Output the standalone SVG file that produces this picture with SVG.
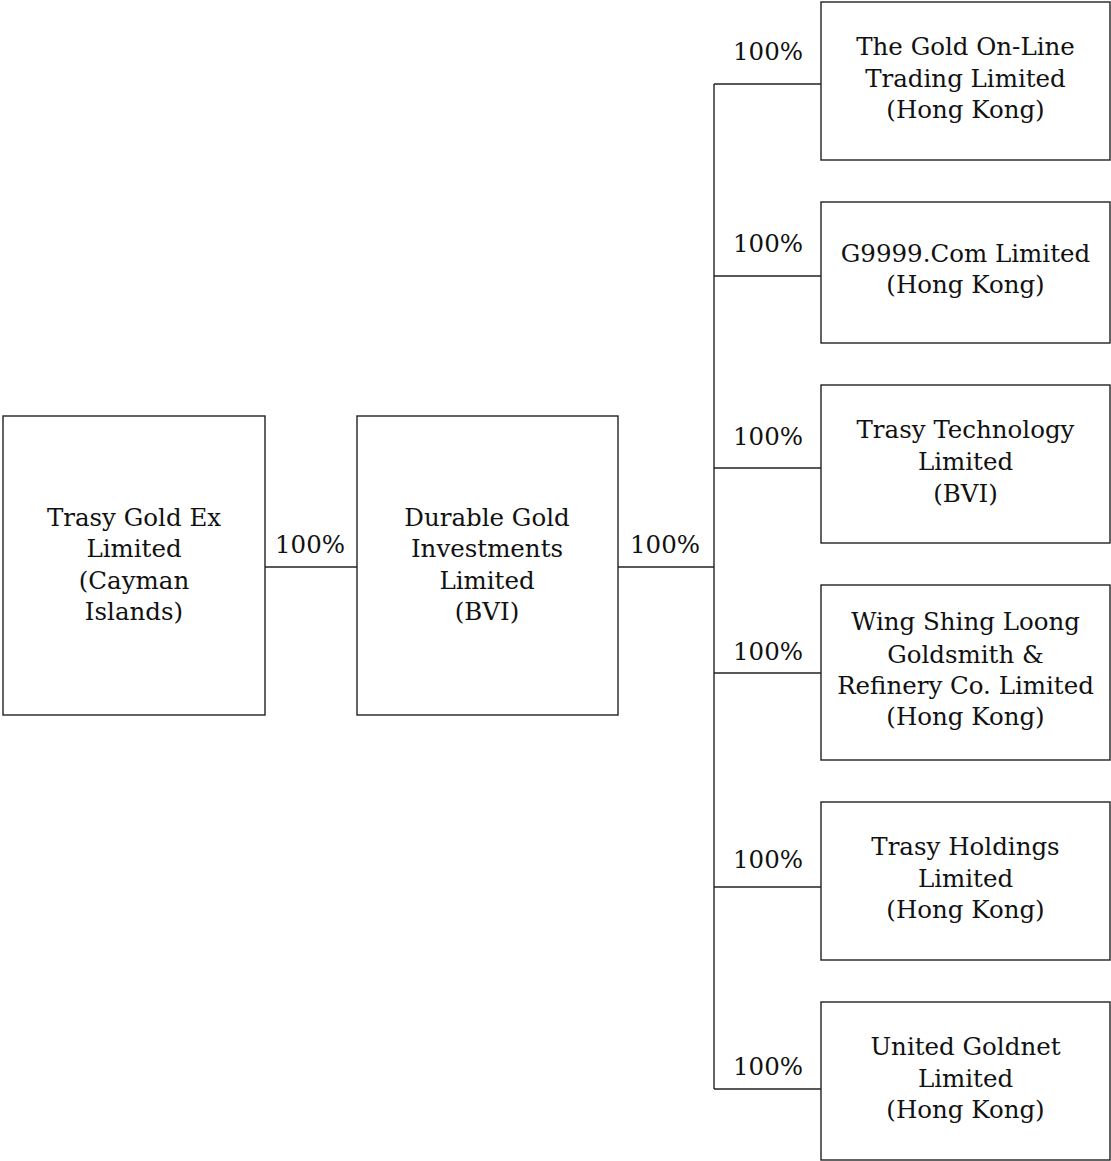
<svg xmlns="http://www.w3.org/2000/svg" width="1111" height="1161" viewBox="0 0 1111 1161">
<style>
.box{fill:#fff;stroke:#222;stroke-width:1.4}
.ln{fill:none;stroke:#222;stroke-width:1.4}
text{font-family:"DejaVu Serif","Liberation Serif",serif;font-size:24.5px;fill:#111;text-anchor:middle}
</style>
<rect width="1111" height="1161" fill="#fff"/>
<g id="connectors">
<line class="ln" x1="265" y1="567" x2="357" y2="567"/>
<line class="ln" x1="618" y1="567" x2="714" y2="567"/>
<line class="ln" x1="714" y1="84" x2="714" y2="1089"/>
<line class="ln" x1="714" y1="84" x2="821" y2="84"/>
<line class="ln" x1="714" y1="276" x2="821" y2="276"/>
<line class="ln" x1="714" y1="468" x2="821" y2="468"/>
<line class="ln" x1="714" y1="673" x2="821" y2="673"/>
<line class="ln" x1="714" y1="887" x2="821" y2="887"/>
<line class="ln" x1="714" y1="1089" x2="821" y2="1089"/>
<text x="310" y="553" font-size="23">100%</text>
<text x="665" y="553" font-size="23">100%</text>
<text x="768" y="60" font-size="23">100%</text>
<text x="768" y="252" font-size="23">100%</text>
<text x="768" y="445" font-size="23">100%</text>
<text x="768" y="660" font-size="23">100%</text>
<text x="768" y="868" font-size="23">100%</text>
<text x="768" y="1075" font-size="23">100%</text>
</g>
<g id="trasy-gold-ex">
<rect class="box" x="3" y="416" width="262" height="299"/>
<text x="134" y="526">Trasy Gold Ex</text>
<text x="134" y="557">Limited</text>
<text x="134" y="589">(Cayman</text>
<text x="134" y="620">Islands)</text>
</g>
<g id="durable-gold">
<rect class="box" x="357" y="416" width="261" height="299"/>
<text x="487" y="526">Durable Gold</text>
<text x="487" y="557">Investments</text>
<text x="487" y="589">Limited</text>
<text x="487" y="620">(BVI)</text>
</g>
<g id="gold-online">
<rect class="box" x="821" y="2" width="289" height="158"/>
<text x="965.5" y="55">The Gold On-Line</text>
<text x="965.5" y="87">Trading Limited</text>
<text x="965.5" y="118">(Hong Kong)</text>
</g>
<g id="g9999">
<rect class="box" x="821" y="202" width="289" height="141"/>
<text x="965.5" y="262">G9999.Com Limited</text>
<text x="965.5" y="293">(Hong Kong)</text>
</g>
<g id="trasy-technology">
<rect class="box" x="821" y="385" width="289" height="158"/>
<text x="965.5" y="438">Trasy Technology</text>
<text x="965.5" y="470">Limited</text>
<text x="965.5" y="502">(BVI)</text>
</g>
<g id="wing-shing-loong">
<rect class="box" x="821" y="585" width="289" height="175"/>
<text x="965.5" y="630">Wing Shing Loong</text>
<text x="965.5" y="663">Goldsmith &amp;</text>
<text x="965.5" y="694">Refinery Co. Limited</text>
<text x="965.5" y="725">(Hong Kong)</text>
</g>
<g id="trasy-holdings">
<rect class="box" x="821" y="802" width="289" height="158"/>
<text x="965.5" y="855">Trasy Holdings</text>
<text x="965.5" y="887">Limited</text>
<text x="965.5" y="918">(Hong Kong)</text>
</g>
<g id="united-goldnet">
<rect class="box" x="821" y="1002" width="289" height="158"/>
<text x="965.5" y="1055">United Goldnet</text>
<text x="965.5" y="1087">Limited</text>
<text x="965.5" y="1118">(Hong Kong)</text>
</g>
</svg>
